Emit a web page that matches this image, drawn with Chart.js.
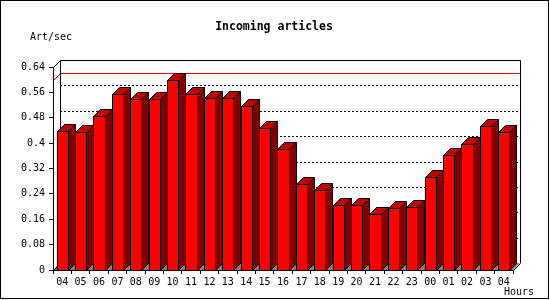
<!DOCTYPE html>
<html>
<head>
<meta charset="utf-8">
<script src="https://cdn.jsdelivr.net/npm/chart.js@4/dist/chart.umd.min.js"></script>
<style>
  html, body { margin: 0; padding: 0; background: #fff; }
  #wrap { width: 550px; height: 300px; }
</style>
</head>
<body>
<div id="wrap"><canvas id="c" width="550" height="300"></canvas></div>
<script>
// ---- data ----
const hours = ['04','05','06','07','08','09','10','11','12','13','14','15','16','17','18','19','20','21','22','23','00','01','02','03','04'];
const artPerSec = [0.438,0.434,0.486,0.554,0.539,0.539,0.599,0.554,0.543,0.543,0.517,0.448,0.381,0.271,0.251,0.204,0.204,0.176,0.195,0.198,0.292,0.362,0.397,0.454,0.434];
const yTickLabels = ['0','0.08','0.16','0.24','0.32','0.4','0.48','0.56','0.64'];
const chartTitle = 'Incoming articles';
const yUnit = 'Art/sec';
const xUnit = 'Hours';

const DEPTH = 7;
const MONO = '"DejaVu Sans Mono", "Liberation Mono", monospace';

const box3d = {
  id: 'box3d',
  beforeDraw(chart) {
    const ctx = chart.ctx;
    ctx.save();
    ctx.fillStyle = '#fff';
    ctx.fillRect(0, 0, chart.width, chart.height);
    ctx.strokeStyle = '#000';
    ctx.lineWidth = 1;
    ctx.strokeRect(0.5, 0.5, 548, 298);
    // texts
    ctx.fillStyle = '#000';
    ctx.font = 'bold 11.5px ' + MONO;
    ctx.textAlign = 'center';
    ctx.textBaseline = 'middle';
    ctx.fillText(chartTitle, 274, 27);
    ctx.font = '10px ' + MONO;
    ctx.textAlign = 'left';
    ctx.fillText(yUnit, 30, 37);
    ctx.fillText(xUnit, 504, 292);
    ctx.restore();
  },
  beforeDatasetsDraw(chart) {
    const ctx = chart.ctx;
    const a = chart.chartArea;
    const ys = chart.scales.y;
    const L = a.left, R = a.right, T = a.top, B = a.bottom, d = DEPTH;
    ctx.save();
    ctx.lineWidth = 1;
    // floor
    ctx.fillStyle = '#808080';
    ctx.beginPath();
    ctx.moveTo(L, B); ctx.lineTo(R, B); ctx.lineTo(R + d, B - d); ctx.lineTo(L + d, B - d);
    ctx.closePath();
    ctx.fill();
    // dotted grid on the back wall
    ctx.strokeStyle = '#000';
    ctx.setLineDash([2, 2]);
    ys.ticks.forEach(t => {
      if (t.value <= 0 || t.value >= ys.max - 1e-9) return;
      const y = Math.round(ys.getPixelForValue(t.value) - d) + 0.5;
      ctx.beginPath();
      ctx.moveTo(L + d, y); ctx.lineTo(R + d, y);
      ctx.stroke();
    });
    ctx.setLineDash([]);
    // max line in red
    const mx = Math.max(...artPerSec);
    const yf = Math.round(ys.getPixelForValue(mx)) + 0.5;
    ctx.strokeStyle = '#dd0000';
    ctx.beginPath();
    ctx.moveTo(L + 0.5, yf); ctx.lineTo(L + d + 0.5, yf - d); ctx.lineTo(R + d, yf - d);
    ctx.stroke();
    // back wall outline
    ctx.strokeStyle = '#000';
    ctx.beginPath();
    ctx.moveTo(L + d + 0.5, B - d); ctx.lineTo(L + d + 0.5, T - d + 0.5);
    ctx.lineTo(R + d + 0.5, T - d + 0.5); ctx.lineTo(R + d + 0.5, B - d);
    ctx.moveTo(L + 0.5, T + 0.5); ctx.lineTo(L + d + 0.5, T - d + 0.5);
    ctx.moveTo(L + 0.5, B + 0.5); ctx.lineTo(L + d + 0.5, B - d + 0.5);
    ctx.stroke();
    ctx.restore();
  },
  afterDatasetsDraw(chart) {
    const ctx = chart.ctx;
    const a = chart.chartArea;
    const L = a.left, R = a.right, T = a.top, B = a.bottom, d = DEPTH;
    const meta = chart.getDatasetMeta(0);
    ctx.save();
    ctx.lineWidth = 1;
    ctx.strokeStyle = '#000';
    meta.data.forEach(bar => {
      const p = bar.getProps(['x', 'y', 'base', 'width'], true);
      const xl = Math.round(p.x - p.width / 2) + 0.5;
      const xr = Math.round(p.x + p.width / 2) + 0.5;
      const yt = Math.round(p.y) + 0.5;
      const yb = Math.round(p.base) + 0.5;
      // side face
      ctx.fillStyle = '#800000';
      ctx.beginPath();
      ctx.moveTo(xr, yt); ctx.lineTo(xr + d, yt - d); ctx.lineTo(xr + d, yb - d); ctx.lineTo(xr, yb);
      ctx.closePath(); ctx.fill(); ctx.stroke();
      // top face
      ctx.fillStyle = '#c00000';
      ctx.beginPath();
      ctx.moveTo(xl, yt); ctx.lineTo(xl + d, yt - d); ctx.lineTo(xr + d, yt - d); ctx.lineTo(xr, yt);
      ctx.closePath(); ctx.fill(); ctx.stroke();
      // front face (crisp redraw on the element geometry)
      ctx.fillStyle = '#ff0000';
      ctx.fillRect(xl, yt, xr - xl, yb - yt);
      ctx.strokeRect(xl, yt, xr - xl, yb - yt);
    });
    // front axes
    ctx.beginPath();
    ctx.moveTo(L + 0.5, T); ctx.lineTo(L + 0.5, B + 0.5); ctx.lineTo(R + 0.5, B + 0.5);
    ctx.lineTo(R + d + 0.5, B - d + 0.5);
    ctx.stroke();
    ctx.restore();
  }
};

new Chart(document.getElementById('c'), {
  type: 'bar',
  data: {
    labels: hours,
    datasets: [{
      data: artPerSec,
      backgroundColor: '#ff0000',
      borderColor: '#000',
      borderWidth: 1,
      borderSkipped: false,
      barPercentage: 0.6,
      categoryPercentage: 1.0
    }]
  },
  options: {
    responsive: false,
    animation: false,
    devicePixelRatio: 1,
    events: [],
    layout: { padding: { top: 67, right: 37, bottom: 0, left: 0 } },
    plugins: { legend: { display: false }, tooltip: { enabled: false }, title: { display: false } },
    scales: {
      x: {
        afterFit(s) { s.height = 30; },
        border: { display: false },
        grid: { drawOnChartArea: false, drawTicks: true, tickLength: 4, color: '#000', offset: true },
        ticks: { color: '#000', font: { family: MONO, size: 10 }, padding: 2, maxRotation: 0, autoSkip: false }
      },
      y: {
        min: 0, max: 0.64,
        afterFit(s) { s.width = 53; },
        border: { display: false },
        grid: { drawOnChartArea: false, drawTicks: true, tickLength: 4, color: '#000' },
        ticks: {
          stepSize: 0.08, color: '#000', font: { family: MONO, size: 10 }, padding: 4,
          callback: (v, i) => yTickLabels[i]
        }
      }
    }
  },
  plugins: [box3d]
});
</script>
</body>
</html>
